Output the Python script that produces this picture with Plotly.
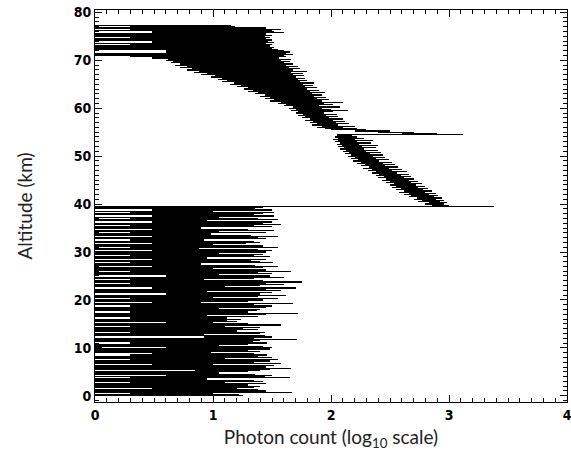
import plotly.graph_objects as go

# Altitude grid of the profile (km): bin start and bin size
ALT_START = 0.0
ALT_STEP = 0.25

# Per-altitude-bin minimum / maximum of log10 photon count
# 0.00 .. 39.25 km (background / noise region), 8 bins = 2 km per row
noise_min = [
    0, 0, 0.3, 0, 0, 0, 0.48, 0,
    0, 0, 0, 0.3, 0, 0, 0, 0.3,
    0, 0.6, 0, 0, 0, 0.85, 0, 0,
    0, 0, 0.48, 0, 0, 0, 0.3, 0,
    0, 0, 0.3, 0.48, 0, 0, 0, 0,
    0.6, 0, 0, 0, 0.3, 0, 0, 0,
    0, 0.92, 0, 0, 0, 0.3, 0, 0,
    0, 0, 0.3, 0, 0, 0.6, 0, 0,
    0, 0.3, 0, 0, 0, 0, 0.3, 0,
    0, 0, 0, 0.3, 0, 0, 0.48, 0,
    0, 0.3, 0, 0, 0, 0.6, 0, 0,
    0, 0, 0.48, 0, 0, 0, 0.3, 0,
    0, 0.3, 0, 0, 0.6, 0, 0, 0,
    0.3, 0, 0, 0, 0.48, 0, 0, 0.3,
    0, 0, 0.48, 0, 0, 0.3, 0, 0,
    0, 0.48, 0, 0, 0.3, 0, 0, 0.48,
    0, 0, 0.3, 0, 0, 0.48, 0, 0,
    0.3, 0, 0, 0.48, 0, 0, 0.3, 0,
    0, 0.48, 0, 0, 0.3, 0, 0.48, 0,
    0, 0.3, 0, 0.48, 0, 0,
]
noise_max = [
    1.25, 1.22, 1.0, 1.67, 1.45, 1.38, 1.2, 1.35,
    1.4, 1.3, 1.45, 1.1, 1.42, 1.35, 0.95, 1.65,
    1.44, 1.5, 1.36, 1.05, 1.3, 1.4, 1.48, 1.66,
    1.45, 1.52, 1.0, 1.58, 1.35, 1.48, 1.55, 1.1,
    1.5, 1.38, 1.46, 1.35, 0.98, 1.4, 1.3, 1.48,
    1.5, 1.42, 1.05, 1.3, 1.46, 1.34, 1.4, 1.71,
    1.35, 1.5, 1.44, 0.92, 1.4, 1.44, 1.2, 1.38,
    1.25, 1.4, 1.1, 1.58, 1.3, 1.0, 1.2, 1.12,
    1.24, 1.12, 1.38, 0.95, 1.45, 1.72, 1.3, 1.37,
    1.4, 1.05, 1.45, 1.5, 1.35, 1.68, 0.9, 1.3,
    1.42, 1.55, 1.0, 1.38, 1.62, 1.4, 1.5, 0.95,
    1.58, 1.45, 1.7, 1.1, 1.4, 1.6, 1.45, 1.75,
    1.42, 0.92, 1.35, 1.6, 1.48, 1.05, 1.5, 1.38,
    1.66, 1.45, 1.0, 1.42, 1.55, 1.36, 0.9, 1.51,
    1.4, 1.32, 1.45, 0.95, 1.48, 1.35, 1.42, 1.05,
    1.45, 1.5, 1.38, 0.88, 1.55, 1.42, 1.0, 1.28,
    1.4, 1.35, 0.92, 1.45, 1.38, 1.55, 1.32, 0.98,
    1.45, 1.05, 1.52, 1.3, 0.9, 1.5, 1.35, 1.58,
    1.42, 1.5, 0.95, 1.55, 1.38, 1.05, 1.52, 1.35,
    1.42, 1.52, 1.0, 1.5, 1.36, 1.42,
]

# 39.50 km: strong return spike
spike_min = [0]
spike_max = [3.38]

# 39.75 .. 77.25 km (signal region)
signal_min = [
    2.86, 2.8, 2.83, 2.74, 2.77, 2.7, 2.73, 2.66,
    2.68, 2.62, 2.66, 2.58, 2.62, 2.55, 2.59, 2.52,
    2.55, 2.5, 2.53, 2.47, 2.5, 2.43, 2.47, 2.4,
    2.45, 2.38, 2.41, 2.35, 2.38, 2.31, 2.35, 2.27,
    2.32, 2.25, 2.29, 2.22, 2.25, 2.19, 2.23, 2.17,
    2.2, 2.14, 2.17, 2.12, 2.15, 2.1, 2.13, 2.08,
    2.11, 2.06, 2.09, 2.05, 2.08, 2.03, 2.06, 2.02,
    2.06, 2.03, 2.05, 2.05, 2.6, 2.4, 2.2, 2.0,
    1.95, 1.88, 1.92, 1.84, 1.88, 1.82, 1.85, 1.78,
    1.82, 1.75, 1.78, 1.72, 1.76, 1.7, 1.72, 1.66,
    1.7, 1.64, 1.68, 1.6, 1.62, 1.55, 1.58, 1.48,
    1.52, 1.44, 1.48, 1.4, 1.44, 1.36, 1.38, 1.3,
    1.34, 1.26, 1.3, 1.2, 1.24, 1.14, 1.18, 1.08,
    1.12, 1.04, 1.08, 0.98, 1.02, 0.9, 0.95, 0.84,
    0.88, 0.78, 0.82, 0.72, 0.78, 0.68, 0.72, 0.64,
    0.66, 0.6, 0.62, 0.48, 0.3, 0, 0, 0,
    0.6, 0.6, 0, 0, 0, 0, 0.3, 0,
    0.48, 0.48, 0, 0, 0.3, 0, 0, 0,
    0.48, 0.48, 0, 0.3, 0, 0.3, 0,
]
signal_max = [
    3.0, 2.96, 2.98, 2.92, 2.96, 2.89, 2.94, 2.87,
    2.91, 2.83, 2.89, 2.8, 2.86, 2.78, 2.82, 2.74,
    2.8, 2.72, 2.77, 2.68, 2.74, 2.66, 2.7, 2.62,
    2.68, 2.59, 2.66, 2.56, 2.64, 2.52, 2.6, 2.49,
    2.57, 2.46, 2.54, 2.44, 2.52, 2.41, 2.49, 2.38,
    2.46, 2.36, 2.44, 2.33, 2.42, 2.3, 2.4, 2.28,
    2.38, 2.26, 2.4, 2.24, 2.34, 2.22, 2.36, 2.2,
    2.28, 2.22, 2.18, 3.12, 2.9, 2.7, 2.5, 2.3,
    2.22, 2.1, 2.2, 2.06, 2.15, 2.04, 2.12, 2.02,
    2.1, 1.98, 2.06, 1.96, 2.05, 1.94, 2.02, 2.14,
    2.0, 1.92, 2.08, 1.9, 2.02, 1.94, 2.1, 1.92,
    1.98, 1.88, 1.96, 1.86, 1.92, 1.84, 1.95, 1.82,
    1.9, 1.8, 1.88, 1.78, 1.85, 1.76, 1.86, 1.74,
    1.8, 1.72, 1.78, 1.7, 1.77, 1.68, 1.76, 1.66,
    1.8, 1.68, 1.74, 1.64, 1.72, 1.62, 1.68, 1.6,
    1.65, 1.58, 1.66, 1.56, 1.62, 1.6, 1.68, 1.62,
    1.65, 1.6, 1.55, 1.5, 1.52, 1.48, 1.5, 1.45,
    1.52, 1.47, 1.5, 1.45, 1.48, 1.44, 1.5, 1.45,
    1.6, 1.52, 1.5, 1.58, 1.45, 1.19, 1.15,
]

count_min = noise_min + spike_min + signal_min
count_max = noise_max + spike_max + signal_max
assert len(count_min) == len(count_max)

altitude = [ALT_START + ALT_STEP * i for i in range(len(count_min))]
span = [hi - lo for lo, hi in zip(count_min, count_max)]

x_ticks = [0, 1, 2, 3, 4]
y_ticks = [0, 10, 20, 30, 40, 50, 60, 70, 80]

tick_font = dict(
    family="'DejaVu Sans Condensed', 'Liberation Sans Narrow', 'Roboto', sans-serif",
    size=14, color="black", weight="bold",
)
title_font = dict(family="Lato, 'Open Sans', sans-serif", size=19, color="#222222")

fig = go.Figure(
    go.Bar(
        y=altitude,
        x=span,
        base=count_min,
        orientation="h",
        width=ALT_STEP,
        marker=dict(color="rgba(0,0,0,0.995)", line=dict(width=0)),
        hoverinfo="skip",
    )
)

fig.update_layout(
    width=571,
    height=461,
    margin=dict(l=95, r=4, t=10, b=59),
    plot_bgcolor="white",
    paper_bgcolor="white",
    showlegend=False,
    bargap=0,
)

fig.update_xaxes(
    range=[0, 4],
    tickvals=x_ticks,
    ticktext=[str(v) for v in x_ticks],
    ticks="inside",
    ticklen=7,
    tickwidth=1,
    tickcolor="black",
    minor=dict(dtick=0.1, ticks="inside", ticklen=4, tickcolor="black", tickwidth=1),
    showline=True,
    linecolor="black",
    linewidth=1,
    mirror="ticks",
    showgrid=False,
    zeroline=False,
    automargin=False,
    ticklabeloverflow="allow",
    tickfont=tick_font,
    title=dict(text="Photon count (log<sub>10</sub> scale)", font=title_font, standoff=8),
)

fig.update_yaxes(
    range=[-1.3, 80.5],
    tickvals=y_ticks,
    ticktext=[str(v) for v in y_ticks],
    ticks="inside",
    ticklen=7,
    tickwidth=1,
    tickcolor="black",
    minor=dict(dtick=1, ticks="inside", ticklen=4, tickcolor="black", tickwidth=1),
    showline=True,
    linecolor="black",
    linewidth=1,
    mirror="ticks",
    showgrid=False,
    zeroline=False,
    automargin=False,
    ticklabeloverflow="allow",
    tickfont=tick_font,
    title=dict(text="Altitude (km)", font=title_font, standoff=36),
)

fig.write_html(
    "out.html",
    config={"displayModeBar": False},
    post_script="document.body.style.margin='0';document.body.style.overflow='hidden';",
)
